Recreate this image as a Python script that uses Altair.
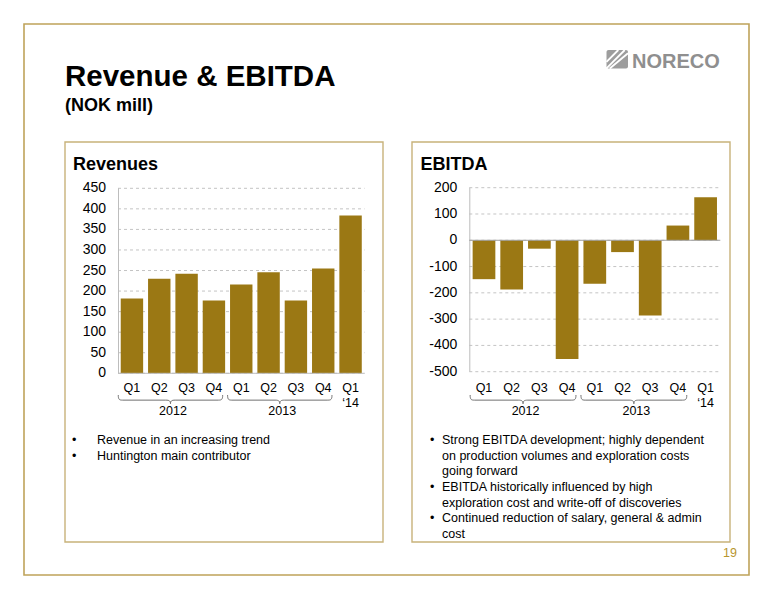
import altair as alt
import pandas as pd

# ---------------- data ----------------
quarters = ["Q1 2012", "Q2 2012", "Q3 2012", "Q4 2012",
            "Q1 2013", "Q2 2013", "Q3 2013", "Q4 2013", "Q1 2014"]
quarter_labels = ["Q1", "Q2", "Q3", "Q4", "Q1", "Q2", "Q3", "Q4", "Q1"]
revenue = [182, 230, 242, 177, 216, 246, 177, 255, 384]
ebitda = [-148, -187, -32, -452, -165, -45, -286, 56, 164]
years = ["2012", "2013"]
year_anchor = ["Q2 2012", "Q2 2013"]
year_suffix = ["\u201814"]
suffix_anchor = ["Q1 2014"]
rev_ticks = [0, 50, 100, 150, 200, 250, 300, 350, 400, 450]
ebit_ticks = [-500, -400, -300, -200, -100, 0, 100, 200]

title_text = "Revenue & EBITDA"
subtitle_text = "(NOK mill)"
left_title = "Revenues"
right_title = "EBITDA"
left_bullets = [["Revenue in an increasing trend"], ["Huntington main contributor"]]
right_bullets = [
    ["Strong EBITDA development; highly dependent",
     "on production volumes and exploration costs",
     "going forward"],
    ["EBITDA historically influenced by high",
     "exploration cost and write-off of discoveries"],
    ["Continued reduction of salary, general & admin",
     "cost"],
]
page_number = "19"
logo_text = "NORECO"

# ---------------- layout / style ----------------
W, H = 758, 575
FONT = "Liberation Sans, Arial, Helvetica, sans-serif"
BAR = "#9B7814"
GRID = "#C4C4C4"
AXIS = "#BDBDBD"
ZERO = "#A0A0A0"
FRAME_OUT = "#BFA35A"
FRAME_IN = "#C8B27A"


def px(v):
    return v - 8  # page coordinate -> chart coordinate


one = pd.DataFrame({"a": [1]})

BRACE = ("M -1 -0.085 C -1 0 -0.98 0.012 -0.92 0.012 L -0.09 0.012 "
         "C -0.02 0.012 0 0.03 0 0.08 C 0 0.03 0.02 0.012 0.09 0.012 "
         "L 0.92 0.012 C 0.98 0.012 1 0 1 -0.085")

year_df = pd.DataFrame({"anchor": year_anchor, "year": years})
suffix_df = pd.DataFrame({"anchor": suffix_anchor, "label": year_suffix})
qlab_df = pd.DataFrame({"q": quarters, "label": quarter_labels})


def panel(values, x0, x1, y_lo_px, y_hi_px, domain, ticks, outer, zero_color):
    df = pd.DataFrame({"q": quarters, "v": values})
    tick_df = pd.DataFrame({"t": ticks, "label": [str(t) for t in ticks]})
    pin = 0.18
    step = (x1 - x0) / (len(quarters) - pin + 2 * outer)
    gap = pin * step
    brace_w = 4 * step - gap
    xs = alt.Scale(domain=quarters, range=[px(x0), px(x1)],
                   paddingInner=pin, paddingOuter=outer)
    ys = alt.Scale(domain=domain, range=[px(y_lo_px), px(y_hi_px)],
                   nice=False)

    grid = alt.Chart(tick_df).mark_rule(
        color=GRID, strokeWidth=1, strokeDash=[3, 3]).encode(
        y=alt.Y("t:Q", scale=ys, axis=None),
        x=alt.value(px(x0)), x2=alt.value(px(x1)))
    ylab = alt.Chart(tick_df).mark_text(
        font=FONT, fontSize=14, color="#000", align="right",
        baseline="middle").encode(
        y=alt.Y("t:Q", scale=ys, axis=None),
        x=alt.value(px(x0) - 12),
        text="label:N")
    ydom = alt.Chart(one).mark_rule(color=AXIS, strokeWidth=1).encode(
        y=alt.YDatum(domain[1], type="quantitative", scale=ys, axis=None),
        y2=alt.Y2Datum(domain[0]),
        x=alt.value(px(x0) + 0.5))
    zero = alt.Chart(one).mark_rule(color=zero_color, strokeWidth=1).encode(
        y=alt.YDatum(0, type="quantitative", scale=ys, axis=None),
        x=alt.value(px(x0)), x2=alt.value(px(x1)))
    bars = alt.Chart(df).mark_bar(color=BAR).encode(
        x=alt.X("q:N", scale=xs, axis=None),
        y=alt.Y("v:Q", scale=ys, axis=None),
    )
    qlab = alt.Chart(qlab_df).mark_text(
        font=FONT, fontSize=12.5, color="#000", baseline="middle").encode(
        x=alt.X("q:N", scale=xs, axis=None),
        y=alt.value(px(388)),
        text="label:N")
    sf = alt.Chart(suffix_df).mark_text(
        font=FONT, fontSize=12.5, color="#000", baseline="middle").encode(
        x=alt.X("anchor:N", scale=xs, axis=None),
        y=alt.value(px(403)),
        text="label:N")
    yr = alt.Chart(year_df).mark_text(
        font=FONT, fontSize=12.5, color="#000", baseline="middle",
        dx=gap / 2).encode(
        x=alt.X("anchor:N", scale=xs, axis=None, bandPosition=1),
        y=alt.value(px(410.5)),
        text="year:N")
    br = alt.Chart(year_df).mark_point(
        shape=BRACE, filled=False, size=brace_w ** 2, color="#707070",
        strokeWidth=1, opacity=1, dx=gap / 2).encode(
        x=alt.X("anchor:N", scale=xs, axis=None, bandPosition=1),
        y=alt.value(px(399.5)))
    return alt.layer(grid, bars, ydom, zero, ylab, qlab, sf, yr, br)


rev_layer = panel(revenue, 118, 364.5, 373.3, 188.3, [0, 450], rev_ticks,
                  0.1, AXIS)
ebit_layer = panel(ebitda, 469.3, 720.3, 371.7, 187.7, [-500, 200],
                   ebit_ticks, 0.12, ZERO)


# ---------------- decorations ----------------
def frame(x0, y0, x1, y1, color, w):
    return alt.Chart(one).mark_rect(fillOpacity=0, stroke=color,
                                    strokeWidth=w).encode(
        x=alt.value(px(x0)), x2=alt.value(px(x1)),
        y=alt.value(px(y0)), y2=alt.value(px(y1)))


def txt(s, x, y, size, weight="normal", color="#000", align="left",
        baseline="alphabetic", font=FONT):
    return alt.Chart(one).mark_text(
        text=s, font=font, fontSize=size, fontWeight=weight, color=color,
        align=align, baseline=baseline).encode(
        x=alt.value(px(x)), y=alt.value(px(y)))


decor = [
    frame(24, 24, 749, 575, FRAME_OUT, 1.6),
    frame(65, 142, 383, 542, FRAME_IN, 1.4),
    frame(412, 142, 730, 542, FRAME_IN, 1.4),
    txt(title_text, 65, 86, 29.5, "bold"),
    txt(subtitle_text, 65, 111, 18, "bold"),
    txt(left_title, 73, 170, 18, "bold"),
    txt(right_title, 420.5, 170, 18, "bold"),
    txt(page_number, 730, 553, 12.5, color="#B8962E", align="center",
        baseline="middle"),
]

# bullets
left_y = [440, 456]
for lines, y in zip(left_bullets, left_y):
    decor.append(txt("\u2022", 72, y, 12.5, baseline="middle"))
    for i, line in enumerate(lines):
        decor.append(txt(line, 97, y + 15.5 * i, 12.5, baseline="middle"))

right_y = [440, 487, 518]
for lines, y in zip(right_bullets, right_y):
    decor.append(txt("\u2022", 430, y, 12.5, baseline="middle"))
    for i, line in enumerate(lines):
        decor.append(txt(line, 442, y + 15.5 * i, 12.5, baseline="middle"))

# logo
logo_icon = alt.Chart(one).mark_rect(color="#9D9D9D", cornerRadius=2).encode(
    x=alt.value(px(606.5)), x2=alt.value(px(628)),
    y=alt.value(px(50)), y2=alt.value(px(68.5)))
decor.append(logo_icon)
s = 21.5
for c in [0.55, 0.85, 1.15]:
    if c <= 1:
        a = (606.5, 50 + c * s)
        b = (606.5 + c * s, 50)
    else:
        a = (606.5 + (c - 1) * s, 68.5)
        b = (628, 50 + (c - 1) * s)
    decor.append(alt.Chart(one).mark_rule(color="white", strokeWidth=1.8).encode(
        x=alt.value(px(a[0])), y=alt.value(px(a[1])),
        x2=alt.value(px(b[0])), y2=alt.value(px(b[1]))))
decor.append(txt(logo_text, 632, 68, 20, "bold", color="#8F8F8F"))

chart = alt.layer(*decor, rev_layer, ebit_layer).resolve_scale(
    x="independent", y="independent"
).properties(
    width=W, height=H, padding=0,
    autosize=alt.AutoSizeParams(type="none"),
).configure_view(strokeWidth=0)

chart.save("out.html", embed_options={"renderer": "svg", "actions": False})
